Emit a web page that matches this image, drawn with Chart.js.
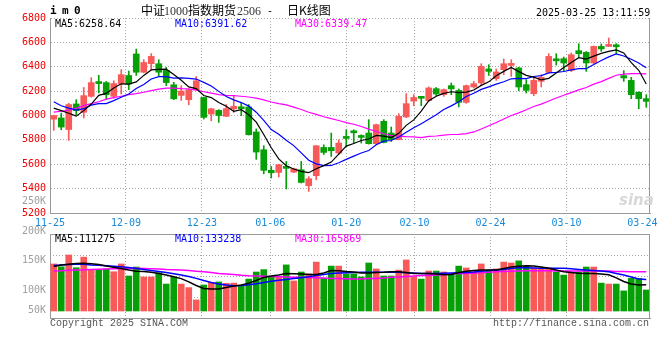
<!DOCTYPE html>
<html><head><meta charset="utf-8">
<script src="https://cdn.jsdelivr.net/npm/chart.js@4.4.1/dist/chart.umd.min.js"></script>
<style>
html,body{margin:0;padding:0;background:#fff;}
#wrap{position:relative;width:660px;height:360px;overflow:hidden;background:#fff;}
canvas{position:absolute;left:0;}
#main{top:0;}
#vol{top:190px;}
.t{position:absolute;white-space:pre;line-height:10px;font-size:10px;font-family:'DejaVu Sans Mono',monospace;}
.c{position:absolute;white-space:pre;line-height:12px;font-size:12px;font-family:'Noto Sans CJK SC',sans-serif;color:#000;}
.s{position:absolute;white-space:pre;line-height:12px;font-size:12px;font-family:'Liberation Serif',serif;color:#333;}
</style></head><body>
<div id="wrap">
<canvas id="main" width="660" height="235"></canvas>
<canvas id="vol" width="660" height="170"></canvas>
<div class="t" style="left:50px;top:6px;font-weight:bold;font-size:11px;letter-spacing:-0.6px;">i m 0</div>
<div class="c" style="left:141px;top:4px;">中证</div>
<div class="s" style="left:164px;top:5px;">1000</div>
<div class="c" style="left:188px;top:4px;">指数期货</div>
<div class="s" style="left:237px;top:5px;">2506</div>
<div class="t" style="left:267px;top:6px;">-</div>
<div class="c" style="left:287px;top:4px;">日K线图</div>
<div class="t" style="left:536px;top:7.5px;color:#000;">2025-03-25 13:11:59</div>
<div class="t" style="left:55px;top:19px;color:#000;">MA5:6258.64</div>
<div class="t" style="left:175px;top:19px;color:#0000ff;">MA10:6391.62</div>
<div class="t" style="left:295px;top:19px;color:#ff00ff;">MA30:6339.47</div>
<div class="t" style="left:55px;top:234px;color:#000;">MA5:111275</div>
<div class="t" style="left:175px;top:234px;color:#0000ff;">MA10:133238</div>
<div class="t" style="left:295px;top:234px;color:#ff00ff;">MA30:165869</div>
<div class="t" style="left:50px;top:318.5px;color:#555;font-family:'Liberation Mono',monospace;">Copyright 2025 SINA.COM</div>
<div class="t" style="left:493px;top:318.5px;color:#555;font-family:'Liberation Mono',monospace;">http://finance.sina.com.cn</div>
<div class="t" style="left:619px;top:193px;color:#d8d8d8;font-family:'DejaVu Sans',sans-serif;font-size:15px;line-height:15px;font-style:italic;font-weight:bold;">sina</div>
</div>
<script>
const dates = ['11-25','11-26','11-27','11-28','11-29',
 '12-02','12-03','12-04','12-05','12-06','12-09','12-10','12-11','12-12','12-13',
 '12-16','12-17','12-18','12-19','12-20','12-23','12-24','12-25','12-26','12-27','12-30','12-31',
 '01-02','01-03','01-06','01-07','01-08','01-09','01-10','01-13','01-14','01-15','01-16','01-17',
 '01-20','01-21','01-22','01-23','01-24','01-27',
 '02-05','02-06','02-07','02-10','02-11','02-12','02-13','02-14','02-17','02-18','02-19','02-20','02-21',
 '02-24','02-25','02-26','02-27','02-28',
 '03-03','03-04','03-05','03-06','03-07','03-10','03-11','03-12','03-13','03-14',
 '03-17','03-18','03-19','03-20','03-21','03-24','03-25'];

const open = [5970,5980,5885,6095,6026,6157,6278,6270,6157,6260,
 6328,6505,6355,6425,6425,6370,6252,6165,6130,6212,
 6148,6012,6042,5993,6055,6062,6070,5865,5719,5550,
 5533,5572,5536,5555,5424,5506,5738,5738,5692,5818,
 5863,5826,5856,5769,5952,5856,5802,5988,6118,6147,
 6122,6220,6171,6245,6206,6108,6234,6267,6382,6302,
 6376,6411,6390,6253,6179,6280,6354,6455,6466,6370,
 6532,6518,6431,6567,6567,6570,6327,6288,6190,6138];
const high = [6003,6020,6100,6130,6230,6310,6330,6280,6285,6376,
 6365,6545,6458,6508,6458,6395,6272,6245,6215,6320,
 6150,6060,6048,6090,6157,6102,6090,5890,5752,5582,
 5600,5623,5568,5623,5498,5752,5760,5856,5800,5883,
 5883,5842,5966,5930,5966,5906,6015,6179,6171,6157,
 6235,6230,6218,6267,6218,6250,6280,6425,6417,6382,
 6464,6458,6395,6294,6316,6335,6507,6507,6480,6513,
 6589,6525,6570,6587,6636,6589,6368,6313,6195,6171];
const low = [5878,5883,5796,6007,5980,6150,6185,6130,6143,6176,
 6212,6329,6350,6376,6327,6245,6130,6124,6088,6210,
 5971,5957,5943,5992,6025,5998,5840,5640,5522,5487,
 5495,5397,5530,5446,5377,5473,5680,5664,5680,5746,
 5774,5774,5765,5760,5775,5787,5800,5982,6080,6080,
 6113,6163,6157,6171,6070,6100,6226,6253,6329,6288,
 6335,6321,6204,6185,6163,6234,6349,6414,6362,6360,
 6480,6362,6425,6526,6565,6507,6280,6138,6056,6067];
const close = [6000,5905,6090,6040,6163,6270,6262,6170,6262,6335,
 6258,6355,6435,6485,6355,6270,6137,6200,6212,6285,
 5985,6055,6000,6056,6075,6055,5842,5700,5550,5530,
 5596,5566,5563,5451,5481,5752,5697,5711,5774,5812,
 5858,5820,5769,5925,5779,5802,5993,6097,6148,6141,
 6226,6176,6212,6218,6108,6245,6261,6403,6362,6357,
 6425,6423,6234,6206,6288,6313,6485,6449,6431,6499,
 6507,6431,6567,6546,6581,6564,6308,6171,6138,6116];

const ma5 = [6060,6040,6018,5995,6040,6094,6165,6181,6225,6260,
 6257,6276,6329,6374,6378,6380,6336,6289,6235,6221,
 6164,6147,6107,6076,6034,6048,6006,5946,5844,5735,
 5644,5588,5561,5541,5531,5563,5589,5618,5683,5749,
 5770,5795,5807,5837,5830,5819,5854,5919,5964,6036,
 6121,6158,6181,6195,6188,6192,6209,6247,6276,6326,
 6362,6394,6360,6329,6315,6293,6305,6348,6393,6435,
 6474,6463,6487,6510,6526,6538,6513,6434,6371,6259];
const ma10 = [6113,6080,6060,6045,6056,6085,6097,6097,6122,6150,
 6176,6221,6255,6300,6319,6319,6306,6309,6304,6299,
 6272,6242,6198,6156,6128,6106,6077,6027,5960,5885,
 5846,5797,5753,5693,5633,5603,5589,5590,5612,5640,
 5667,5692,5713,5760,5790,5795,5824,5863,5900,5933,
 5970,6006,6050,6079,6112,6156,6183,6214,6235,6257,
 6277,6301,6304,6302,6320,6327,6350,6354,6361,6375,
 6384,6384,6418,6452,6481,6506,6488,6461,6431,6392];
const ma30 = [6027,6035,6044,6060,6081,6097,6113,6134,6146,6158,
 6171,6179,6191,6204,6216,6224,6224,6220,6218,6208,
 6195,6183,6171,6165,6163,6158,6152,6143,6128,6111,
 6098,6087,6069,6049,6027,6009,5990,5975,5959,5941,
 5928,5910,5888,5869,5850,5835,5830,5826,5824,5819,
 5828,5832,5839,5844,5845,5851,5865,5889,5916,5943,
 5971,6000,6022,6047,6074,6093,6119,6144,6166,6188,
 6210,6230,6257,6278,6305,6330,6340,6343,6343,6342];

// volume in thousands
const volume = [199,187,237,183,228,176,176,178,166,199,
 148,186,144,144,162,114,143,114,99,47,
 110,121,123,117,118,106,135,165,175,145,
 145,195,127,165,157,207,138,190,190,157,
 157,144,203,178,148,148,173,216,145,135,
 169,169,165,155,190,182,165,199,169,178,
 207,203,212,190,182,182,182,165,152,165,
 165,186,186,118,114,114,85,138,138,89];
const volMa5 = [188,195,198,201,202,200,197,190,185,180,
 173,168,167,164,159,152,145,137,123,108,
 95,93,93,99,106,110,118,129,142,148,
 152,159,158,157,154,154,161,171,170,167,
 165,161,161,163,164,166,166,163,159,159,
 159,157,153,154,163,168,171,173,173,173,
 180,186,189,191,190,186,181,173,166,163,
 160,159,159,157,153,140,125,114,110,111];
const volMa10 = [192,195,197,198,198,195,193,191,189,187,
 184,180,176,171,167,163,158,152,146,138,
 129,121,114,110,107,108,111,115,121,126,
 130,133,137,141,145,150,154,159,161,162,
 163,164,164,164,164,164,164,162,161,159,
 159,159,160,161,162,163,165,168,171,173,
 176,180,183,183,182,181,181,181,181,179,
 176,173,171,169,166,159,152,144,135,133];
const volMa30 = [169,170,172,173,174,176,177,178,179,179,
 180,181,180,179,178,176,175,173,171,168,
 166,163,159,157,154,151,149,148,147,146,
 145,144,143,143,142,141,140,138,137,136,
 135,135,137,138,140,143,144,146,148,150,
 150,152,154,157,159,159,161,162,164,166,
 167,168,169,170,170,170,170,169,169,169,
 169,169,169,169,169,167,167,166,166,166];

const dateTickLabels = ['11-25','12-09','12-23','01-06','01-20','02-10','02-24','03-10','03-24'];
const priceMin = 5200, priceMax = 6800, priceStep = 200;
const volTickLabels = ['50K','100K','150K','200K','250K'];
const volTickAt = [66,100,150,200,250];

const UP = '#f85a5a', DOWN = '#06a006';
const GRID = '#a8a8a8', EDGE = '#999999';
const MONO = "'DejaVu Sans Mono', monospace";
const dateTickIdx = dateTickLabels.map(d => dates.indexOf(d));
const lastIdx = dates.length - 1;
const colorAt = ctx => (close[ctx.dataIndex] >= open[ctx.dataIndex] ? UP : DOWN);

const frame = (drawTop) => ({
  id: drawTop ? 'frameTop' : 'frame',
  afterDraw(chart) {
    const {ctx, chartArea: a} = chart;
    ctx.save();
    ctx.strokeStyle = EDGE; ctx.lineWidth = 1;
    ctx.beginPath();
    const xr = Math.round(a.right) - 0.5;
    ctx.moveTo(xr, a.top); ctx.lineTo(xr, a.bottom);
    if (drawTop) { const yt = Math.round(a.top) + 0.5; ctx.moveTo(a.left, yt); ctx.lineTo(a.right, yt); }
    ctx.stroke();
    ctx.restore();
  }
});

const dateGrid = (showLabels) => ({
  type: 'linear', position: 'bottom', min: 0, max: lastIdx, offset: false,
  afterBuildTicks: s => { s.ticks = dateTickIdx.map(v => ({value: v})); },
  afterFit: s => { s.height = showLabels ? 22 : 0; s.paddingLeft = 0; s.paddingRight = 0; },
  ticks: { display: showLabels, autoSkip: false, maxRotation: 0, padding: 4, color: '#1a8ad8',
           font: {family: MONO, size: 10}, callback: (v, i) => dateTickLabels[i] },
  grid: { offset: false, drawTicks: false, lineWidth: 1,
          color: c => (c.tick && (c.tick.value === 0 || c.tick.value >= lastIdx - 1)) ? 'rgba(0,0,0,0)' : GRID },
  border: { display: true, color: EDGE, dash: [1, 2] }
});

const lineDs = (label, data, color, yId, w) => ({
  type: 'line', label, data, borderColor: color, borderWidth: w, pointRadius: 0,
  tension: 0, fill: false, xAxisID: 'x', yAxisID: yId, order: 0
});

new Chart(document.getElementById('main'), {
  type: 'bar',
  data: {
    labels: dates,
    datasets: [
      lineDs('MA5', ma5, '#000000', 'y', 1.2),
      lineDs('MA10', ma10, '#0000ff', 'y', 1.2),
      lineDs('MA30', ma30, '#ff00ff', 'y', 1.2),
      { label: 'body', data: dates.map((d, i) => [open[i], close[i]]), backgroundColor: colorAt,
        barThickness: 6, minBarLength: 2, grouped: false, borderWidth: 0, xAxisID: 'x', yAxisID: 'y', order: 1 },
      { label: 'wick', data: dates.map((d, i) => [low[i], high[i]]), backgroundColor: colorAt,
        barThickness: 1, grouped: false, borderWidth: 0, xAxisID: 'x', yAxisID: 'y', order: 2 }
    ]
  },
  options: {
    responsive: false, animation: false, devicePixelRatio: 1,
    layout: { padding: { top: 18, right: 10, bottom: 0, left: 0 } },
    plugins: { legend: { display: false }, tooltip: { enabled: false } },
    scales: {
      x: { display: false, offset: true },
      xd: dateGrid(true),
      y: { position: 'left', min: priceMin, max: priceMax,
           afterFit: s => { s.width = 50; s.paddingTop = 0; s.paddingBottom = 0; },
           ticks: { stepSize: priceStep, color: '#ee0000', padding: 4, font: {family: MONO, size: 10},
                    callback: v => String(v) },
           grid: { drawTicks: false, color: GRID, lineWidth: 1 },
           border: { display: true, color: EDGE, dash: [1, 2] } }
    }
  },
  plugins: [frame(false)]
});

new Chart(document.getElementById('vol'), {
  type: 'bar',
  data: {
    labels: dates,
    datasets: [
      lineDs('VMA5', volMa5, '#000000', 'yv', 1.5),
      lineDs('VMA10', volMa10, '#0000ff', 'yv', 1.5),
      lineDs('VMA30', volMa30, '#ff00ff', 'yv', 1.5),
      { label: 'volume', data: volume, backgroundColor: colorAt, barThickness: 6, borderWidth: 0,
        xAxisID: 'x', yAxisID: 'yv', order: 1 }
    ]
  },
  options: {
    responsive: false, animation: false, devicePixelRatio: 1,
    layout: { padding: { top: 44, right: 10, bottom: 42, left: 0 } },
    plugins: { legend: { display: false }, tooltip: { enabled: false } },
    scales: {
      x: { display: false, offset: true },
      xd: dateGrid(false),
      yv: { display: false, min: -29.6, max: 325.7 },
      yl: { position: 'left', min: 54, max: 195,
            afterBuildTicks: s => { s.ticks = volTickAt.map(v => ({value: v})); },
            afterFit: s => { s.width = 50; s.paddingTop = 0; s.paddingBottom = 0; },
            ticks: { autoSkip: false, color: '#a0a0a0', padding: 4, font: {family: MONO, size: 10},
                     callback: (v, i) => volTickLabels[i] },
            grid: { display: false, drawTicks: false },
            border: { display: true, color: EDGE } },
      yg: { position: 'left', min: 0, max: 4,
            afterBuildTicks: s => { s.ticks = [1, 2, 3].map(v => ({value: v})); },
            afterFit: s => { s.width = 0; s.paddingTop = 0; s.paddingBottom = 0; },
            ticks: { display: false },
            grid: { drawTicks: false, color: GRID, lineWidth: 1 },
            border: { display: false, dash: [1, 2] } }
    }
  },
  plugins: [frame(true)]
});
</script>
</body></html>
